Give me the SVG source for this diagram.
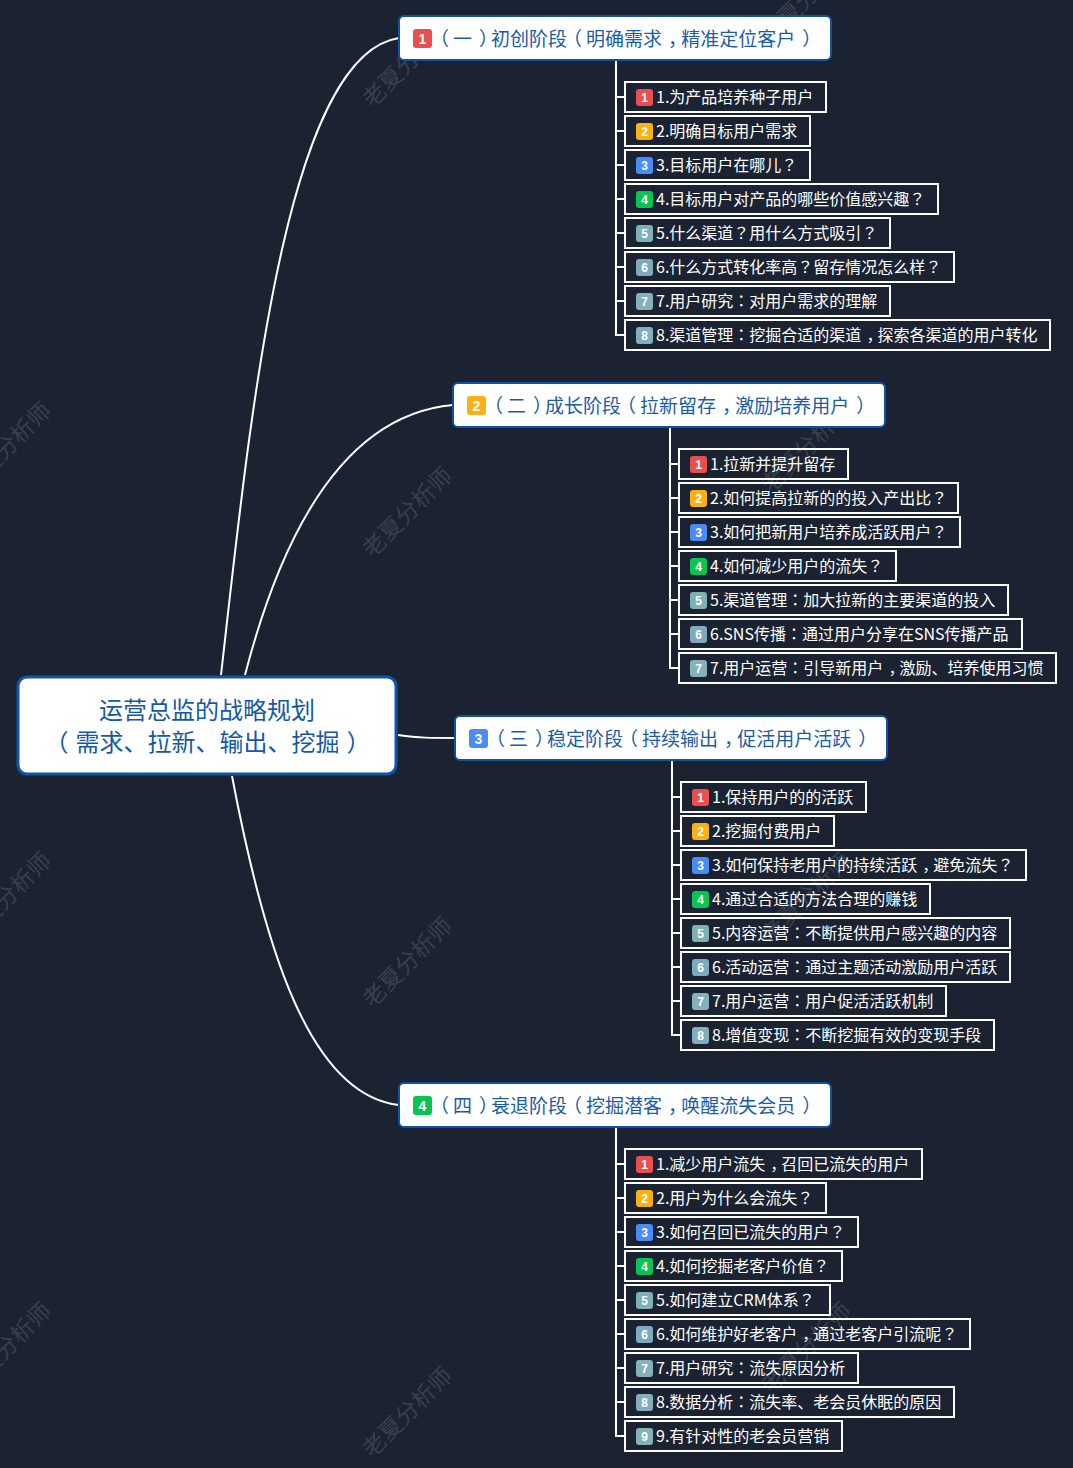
<svg xmlns="http://www.w3.org/2000/svg" width="1073" height="1468" viewBox="0 0 1073 1468">
<style>
text{font-family:"Noto Sans CJK SC","Noto Sans",sans-serif}
.p{font-family:"Noto Sans CJK KR","Noto Sans CJK SC",sans-serif}
.pre{letter-spacing:-4px}.o{letter-spacing:4px}.c{letter-spacing:-7px}.m{letter-spacing:-6px}.k{letter-spacing:-5px}
.ro{letter-spacing:7px}
.wm{font-size:23px;fill:#fff;fill-opacity:.15;text-anchor:middle}
.con{fill:none;stroke:#fff;stroke-width:2}
.root{fill:#fff;stroke:#0f56a8;stroke-width:3}
.rt{font-size:24px;fill:#1259ab;text-anchor:middle}
.br{fill:#fff;stroke:#0f51a3;stroke-width:2}
.bt{font-size:19px;fill:#1b5ca8}
.lf{fill:none;stroke:#fff;stroke-width:2}
.lt{font-size:16px;fill:#fff}
.n{font-family:"Liberation Sans",sans-serif;font-weight:700;fill:#fff;text-anchor:middle}
.nb{font-size:14px}.nl{font-size:12px}
.c1{fill:#ea4f4f}.c2{fill:#fbb115}.c3{fill:#4a8cf5}.c4{fill:#08c454}.c5{fill:#7fb0b3}.c6{fill:#7eabbb}.c7{fill:#85b2b8}.c8{fill:#84aebd}.c9{fill:#84b2b5}
</style>
<rect width="1073" height="1468" fill="#1b2332"/>
<g id="watermarks">
<text class="wm" transform="translate(413 68) rotate(-45)">老夏分析师</text>
<text class="wm" transform="translate(413 518) rotate(-45)">老夏分析师</text>
<text class="wm" transform="translate(413 968) rotate(-45)">老夏分析师</text>
<text class="wm" transform="translate(413 1418) rotate(-45)">老夏分析师</text>
<text class="wm" transform="translate(12 453) rotate(-45)">老夏分析师</text>
<text class="wm" transform="translate(12 903) rotate(-45)">老夏分析师</text>
<text class="wm" transform="translate(12 1353) rotate(-45)">老夏分析师</text>
<text class="wm" transform="translate(812 3) rotate(-45)">老夏分析师</text>
<text class="wm" transform="translate(812 453) rotate(-45)">老夏分析师</text>
<text class="wm" transform="translate(812 903) rotate(-45)">老夏分析师</text>
<text class="wm" transform="translate(812 1353) rotate(-45)">老夏分析师</text>
</g>
<g id="connectors">
<path class="con" d="M221 675C250 420 285 55 399 38"/>
<path class="con" d="M245 675C280 540 340 415 453 405"/>
<path class="con" d="M398 735C420 738 430 738 455 738"/>
<path class="con" d="M232 776C265 950 310 1095 399 1105"/>
<path class="con" d="M616 60V335H625M616 97H625M616 131H625M616 165H625M616 199H625M616 233H625M616 267H625M616 301H625"/>
<path class="con" d="M670 427V668H679M670 464H679M670 498H679M670 532H679M670 566H679M670 600H679M670 634H679"/>
<path class="con" d="M672 760V1035H681M672 797H681M672 831H681M672 865H681M672 899H681M672 933H681M672 967H681M672 1001H681"/>
<path class="con" d="M616 1127V1436H625M616 1164H625M616 1198H625M616 1232H625M616 1266H625M616 1300H625M616 1334H625M616 1368H625M616 1402H625"/>
</g>
<g id="root">
<rect class="root" x="18" y="677" width="378" height="97" rx="9"/>
<text class="rt" x="207" y="719">运营总监的战略规划</text>
<text class="rt" x="211" y="751"><tspan dx="-7" class="ro">（</tspan>需求、拉新、输出、挖掘<tspan dx="7" class="c">）</tspan></text>
</g>
<g id="b1"><rect class="br" x="399" y="16" width="432" height="44" rx="5"/><rect class="c1" x="413" y="29" width="19" height="19" rx="3"/><text class="n nb" x="422.500" y="43.500">1</text><text class="bt" x="434" y="46"><tspan dx="-4" class="o">（</tspan>一<tspan dx="7" class="c">）</tspan>初创阶<tspan class="pre">段</tspan><tspan class="o">（</tspan>明确需求<tspan dx="6" class="m">，</tspan>精准定位客户<tspan dx="7" class="c">）</tspan></text></g>
<g id="b2"><rect class="br" x="453" y="383" width="432" height="44" rx="5"/><rect class="c2" x="467" y="396" width="19" height="19" rx="3"/><text class="n nb" x="476.500" y="410.500">2</text><text class="bt" x="488" y="413"><tspan dx="-4" class="o">（</tspan>二<tspan dx="7" class="c">）</tspan>成长阶<tspan class="pre">段</tspan><tspan class="o">（</tspan>拉新留存<tspan dx="6" class="m">，</tspan>激励培养用户<tspan dx="7" class="c">）</tspan></text></g>
<g id="b3"><rect class="br" x="455" y="716" width="432" height="44" rx="5"/><rect class="c3" x="469" y="729" width="19" height="19" rx="3"/><text class="n nb" x="478.500" y="743.500">3</text><text class="bt" x="490" y="746"><tspan dx="-4" class="o">（</tspan>三<tspan dx="7" class="c">）</tspan>稳定阶<tspan class="pre">段</tspan><tspan class="o">（</tspan>持续输出<tspan dx="6" class="m">，</tspan>促活用户活跃<tspan dx="7" class="c">）</tspan></text></g>
<g id="b4"><rect class="br" x="399" y="1083" width="432" height="44" rx="5"/><rect class="c4" x="413" y="1096" width="19" height="19" rx="3"/><text class="n nb" x="422.500" y="1110.500">4</text><text class="bt" x="434" y="1113"><tspan dx="-4" class="o">（</tspan>四<tspan dx="7" class="c">）</tspan>衰退阶<tspan class="pre">段</tspan><tspan class="o">（</tspan>挖掘潜客<tspan dx="6" class="m">，</tspan>唤醒流失会员<tspan dx="7" class="c">）</tspan></text></g>

<g id="l1-1"><rect class="lf" x="625" y="82" width="201" height="30"/><rect class="c1" x="636" y="89" width="17" height="17" rx="3"/><text class="n nl" x="644.500" y="102">1</text><text class="lt" x="656" y="103">1.为产品培养种子用户</text></g>
<g id="l1-2"><rect class="lf" x="625" y="116" width="185" height="30"/><rect class="c2" x="636" y="123" width="17" height="17" rx="3"/><text class="n nl" x="644.500" y="136">2</text><text class="lt" x="656" y="137">2.明确目标用户需求</text></g>
<g id="l1-3"><rect class="lf" x="625" y="150" width="185" height="30"/><rect class="c3" x="636" y="157" width="17" height="17" rx="3"/><text class="n nl" x="644.500" y="170">3</text><text class="lt" x="656" y="171">3.目标用户在哪儿<tspan class="p">？</tspan></text></g>
<g id="l1-4"><rect class="lf" x="625" y="184" width="313" height="30"/><rect class="c4" x="636" y="191" width="17" height="17" rx="3"/><text class="n nl" x="644.500" y="204">4</text><text class="lt" x="656" y="205">4.目标用户对产品的哪些价值感兴趣<tspan class="p">？</tspan></text></g>
<g id="l1-5"><rect class="lf" x="625" y="218" width="265" height="30"/><rect class="c5" x="636" y="225" width="17" height="17" rx="3"/><text class="n nl" x="644.500" y="238">5</text><text class="lt" x="656" y="239">5.什么渠道<tspan class="p">？</tspan>用什么方式吸引<tspan class="p">？</tspan></text></g>
<g id="l1-6"><rect class="lf" x="625" y="252" width="329" height="30"/><rect class="c6" x="636" y="259" width="17" height="17" rx="3"/><text class="n nl" x="644.500" y="272">6</text><text class="lt" x="656" y="273">6.什么方式转化率高<tspan class="p">？</tspan>留存情况怎么样<tspan class="p">？</tspan></text></g>
<g id="l1-7"><rect class="lf" x="625" y="286" width="265" height="30"/><rect class="c7" x="636" y="293" width="17" height="17" rx="3"/><text class="n nl" x="644.500" y="306">7</text><text class="lt" x="656" y="307">7.用户研究<tspan class="p">：</tspan>对用户需求的理解</text></g>
<g id="l1-8"><rect class="lf" x="625" y="320" width="425" height="30"/><rect class="c8" x="636" y="327" width="17" height="17" rx="3"/><text class="n nl" x="644.500" y="340">8</text><text class="lt" x="656" y="341">8.渠道管理<tspan class="p">：</tspan>挖掘合适的渠道<tspan dx="5" class="k">，</tspan>探索各渠道的用户转化</text></g>

<g id="l2-1"><rect class="lf" x="679" y="449" width="169" height="30"/><rect class="c1" x="690" y="456" width="17" height="17" rx="3"/><text class="n nl" x="698.500" y="469">1</text><text class="lt" x="710" y="470">1.拉新并提升留存</text></g>
<g id="l2-2"><rect class="lf" x="679" y="483" width="279" height="30"/><rect class="c2" x="690" y="490" width="17" height="17" rx="3"/><text class="n nl" x="698.500" y="503">2</text><text class="lt" x="710" y="504">2.如何提高拉新的的投入产出比<tspan class="p">？</tspan></text></g>
<g id="l2-3"><rect class="lf" x="679" y="517" width="281" height="30"/><rect class="c3" x="690" y="524" width="17" height="17" rx="3"/><text class="n nl" x="698.500" y="537">3</text><text class="lt" x="710" y="538">3.如何把新用户培养成活跃用户<tspan class="p">？</tspan></text></g>
<g id="l2-4"><rect class="lf" x="679" y="551" width="217" height="30"/><rect class="c4" x="690" y="558" width="17" height="17" rx="3"/><text class="n nl" x="698.500" y="571">4</text><text class="lt" x="710" y="572">4.如何减少用户的流失<tspan class="p">？</tspan></text></g>
<g id="l2-5"><rect class="lf" x="679" y="585" width="329" height="30"/><rect class="c5" x="690" y="592" width="17" height="17" rx="3"/><text class="n nl" x="698.500" y="605">5</text><text class="lt" x="710" y="606">5.渠道管理<tspan class="p">：</tspan>加大拉新的主要渠道的投入</text></g>
<g id="l2-6"><rect class="lf" x="679" y="619" width="343" height="30"/><rect class="c6" x="690" y="626" width="17" height="17" rx="3"/><text class="n nl" x="698.500" y="639">6</text><text class="lt" x="710" y="640">6.SNS传播<tspan class="p">：</tspan>通过用户分享在SNS传播产品</text></g>
<g id="l2-7"><rect class="lf" x="679" y="653" width="377" height="30"/><rect class="c7" x="690" y="660" width="17" height="17" rx="3"/><text class="n nl" x="698.500" y="673">7</text><text class="lt" x="710" y="674">7.用户运营<tspan class="p">：</tspan>引导新用户<tspan dx="5" class="k">，</tspan>激励、培养使用习惯</text></g>

<g id="l3-1"><rect class="lf" x="681" y="782" width="185" height="30"/><rect class="c1" x="692" y="789" width="17" height="17" rx="3"/><text class="n nl" x="700.500" y="802">1</text><text class="lt" x="712" y="803">1.保持用户的的活跃</text></g>
<g id="l3-2"><rect class="lf" x="681" y="816" width="153" height="30"/><rect class="c2" x="692" y="823" width="17" height="17" rx="3"/><text class="n nl" x="700.500" y="836">2</text><text class="lt" x="712" y="837">2.挖掘付费用户</text></g>
<g id="l3-3"><rect class="lf" x="681" y="850" width="345" height="30"/><rect class="c3" x="692" y="857" width="17" height="17" rx="3"/><text class="n nl" x="700.500" y="870">3</text><text class="lt" x="712" y="871">3.如何保持老用户的持续活跃<tspan dx="5" class="k">，</tspan>避免流失<tspan class="p">？</tspan></text></g>
<g id="l3-4"><rect class="lf" x="681" y="884" width="249" height="30"/><rect class="c4" x="692" y="891" width="17" height="17" rx="3"/><text class="n nl" x="700.500" y="904">4</text><text class="lt" x="712" y="905">4.通过合适的方法合理的赚钱</text></g>
<g id="l3-5"><rect class="lf" x="681" y="918" width="329" height="30"/><rect class="c5" x="692" y="925" width="17" height="17" rx="3"/><text class="n nl" x="700.500" y="938">5</text><text class="lt" x="712" y="939">5.内容运营<tspan class="p">：</tspan>不断提供用户感兴趣的内容</text></g>
<g id="l3-6"><rect class="lf" x="681" y="952" width="329" height="30"/><rect class="c6" x="692" y="959" width="17" height="17" rx="3"/><text class="n nl" x="700.500" y="972">6</text><text class="lt" x="712" y="973">6.活动运营<tspan class="p">：</tspan>通过主题活动激励用户活跃</text></g>
<g id="l3-7"><rect class="lf" x="681" y="986" width="265" height="30"/><rect class="c7" x="692" y="993" width="17" height="17" rx="3"/><text class="n nl" x="700.500" y="1006">7</text><text class="lt" x="712" y="1007">7.用户运营<tspan class="p">：</tspan>用户促活活跃机制</text></g>
<g id="l3-8"><rect class="lf" x="681" y="1020" width="313" height="30"/><rect class="c8" x="692" y="1027" width="17" height="17" rx="3"/><text class="n nl" x="700.500" y="1040">8</text><text class="lt" x="712" y="1041">8.增值变现<tspan class="p">：</tspan>不断挖掘有效的变现手段</text></g>

<g id="l4-1"><rect class="lf" x="625" y="1149" width="297" height="30"/><rect class="c1" x="636" y="1156" width="17" height="17" rx="3"/><text class="n nl" x="644.500" y="1169">1</text><text class="lt" x="656" y="1170">1.减少用户流失<tspan dx="5" class="k">，</tspan>召回已流失的用户</text></g>
<g id="l4-2"><rect class="lf" x="625" y="1183" width="201" height="30"/><rect class="c2" x="636" y="1190" width="17" height="17" rx="3"/><text class="n nl" x="644.500" y="1203">2</text><text class="lt" x="656" y="1204">2.用户为什么会流失<tspan class="p">？</tspan></text></g>
<g id="l4-3"><rect class="lf" x="625" y="1217" width="233" height="30"/><rect class="c3" x="636" y="1224" width="17" height="17" rx="3"/><text class="n nl" x="644.500" y="1237">3</text><text class="lt" x="656" y="1238">3.如何召回已流失的用户<tspan class="p">？</tspan></text></g>
<g id="l4-4"><rect class="lf" x="625" y="1251" width="217" height="30"/><rect class="c4" x="636" y="1258" width="17" height="17" rx="3"/><text class="n nl" x="644.500" y="1271">4</text><text class="lt" x="656" y="1272">4.如何挖掘老客户价值<tspan class="p">？</tspan></text></g>
<g id="l4-5"><rect class="lf" x="625" y="1285" width="205" height="30"/><rect class="c5" x="636" y="1292" width="17" height="17" rx="3"/><text class="n nl" x="644.500" y="1305">5</text><text class="lt" x="656" y="1306">5.如何建立CRM体系<tspan class="p">？</tspan></text></g>
<g id="l4-6"><rect class="lf" x="625" y="1319" width="345" height="30"/><rect class="c6" x="636" y="1326" width="17" height="17" rx="3"/><text class="n nl" x="644.500" y="1339">6</text><text class="lt" x="656" y="1340">6.如何维护好老客户<tspan dx="5" class="k">，</tspan>通过老客户引流呢<tspan class="p">？</tspan></text></g>
<g id="l4-7"><rect class="lf" x="625" y="1353" width="233" height="30"/><rect class="c7" x="636" y="1360" width="17" height="17" rx="3"/><text class="n nl" x="644.500" y="1373">7</text><text class="lt" x="656" y="1374">7.用户研究<tspan class="p">：</tspan>流失原因分析</text></g>
<g id="l4-8"><rect class="lf" x="625" y="1387" width="329" height="30"/><rect class="c8" x="636" y="1394" width="17" height="17" rx="3"/><text class="n nl" x="644.500" y="1407">8</text><text class="lt" x="656" y="1408">8.数据分析<tspan class="p">：</tspan>流失率、老会员休眠的原因</text></g>
<g id="l4-9"><rect class="lf" x="625" y="1421" width="217" height="30"/><rect class="c9" x="636" y="1428" width="17" height="17" rx="3"/><text class="n nl" x="644.500" y="1441">9</text><text class="lt" x="656" y="1442">9.有针对性的老会员营销</text></g>
</svg>
